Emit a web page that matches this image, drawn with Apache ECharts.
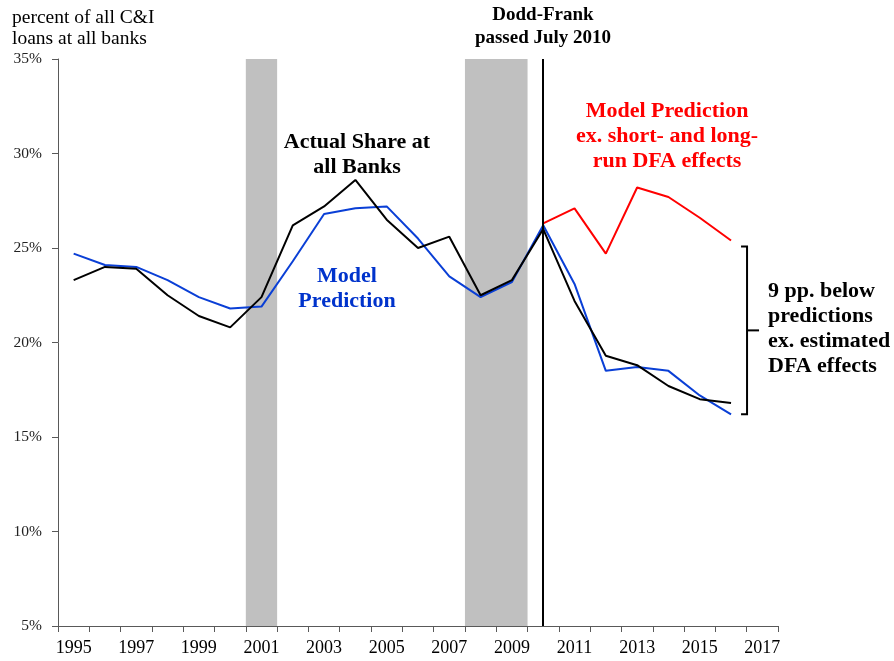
<!DOCTYPE html>
<html>
<head>
<meta charset="utf-8">
<script src="https://cdn.jsdelivr.net/npm/echarts@6/dist/echarts.min.js"></script>
<style>
  html, body { margin: 0; padding: 0; background: #fff; }
  #chart { width: 894px; height: 661px; }
</style>
</head>
<body>
<div id="chart"></div>
<script>
// 年份
var years = ['1995', '1996', '1997', '1998', '1999', '2000', '2001', '2002', '2003', '2004', '2005',
    '2006', '2007', '2008', '2009', '2010', '2011', '2012', '2013', '2014', '2015', '2016', '2017'];

// 实际份额 (%)
var actualShare = [23.3, 24.0, 23.9, 22.5, 21.4, 20.8, 22.4, 26.2, 27.2, 28.6, 26.5,
    25.0, 25.6, 22.5, 23.3, 26.0, 22.2, 19.3, 18.8, 17.7, 17.0, 16.8, null];

// 模型预测 (%)
var modelPred = [24.7, 24.1, 24.0, 23.3, 22.4, 21.8, 21.9, 24.3, 26.8, 27.1, 27.2,
    25.5, 23.5, 22.4, 23.2, 26.2, 23.1, 18.5, 18.7, 18.5, 17.2, 16.2, null];

// 不含DFA影响的模型预测 (%)
var modelExDFA = [null, null, null, null, null, null, null, null, null, null, null,
    null, null, null, null, 26.3, 27.1, 24.7, 28.2, 27.7, 26.6, 25.4, null];

// 衰退期 (起止年份)
var recessions = [['2001', '2001'], ['2008', '2009']];
var doddFrankYear = '2010';
var bracketYear = '2016';

var yTicks = { min: 5, max: 35, interval: 5 };

var serif = '"Liberation Serif", "Times New Roman", serif';
var axisColor = '#595959';

var chart = echarts.init(document.getElementById('chart'));

var option = {
    backgroundColor: '#fff',
    animation: false,
    grid: {
        left: 58,
        right: 116,
        top: 59,
        bottom: 35
    },
    xAxis: {
        type: 'category',
        data: years,
        boundaryGap: true,
        axisLine: { lineStyle: { color: axisColor, width: 1 } },
        axisTick: { show: true, interval: 0, length: 6, lineStyle: { color: axisColor } },
        axisLabel: {
            interval: 1,
            color: '#000',
            fontFamily: serif,
            fontSize: 18,
            margin: 13
        },
        splitLine: { show: false }
    },
    yAxis: {
        type: 'value',
        min: yTicks.min,
        max: yTicks.max,
        interval: yTicks.interval,
        axisLine: { show: true, lineStyle: { color: axisColor, width: 1 } },
        axisTick: { show: true, length: 6, lineStyle: { color: axisColor } },
        axisLabel: {
            formatter: '{value}%',
            color: '#222',
            fontFamily: serif,
            fontSize: 15.5,
            margin: 16
        },
        splitLine: { show: false }
    },
    series: [
        {
            // 衰退期阴影
            name: 'recession',
            type: 'custom',
            silent: true,
            z: 1,
            data: recessions.map(function (r) {
                return [years.indexOf(r[0]), years.indexOf(r[1])];
            }),
            encode: { x: [0, 1] },
            renderItem: function (params, api) {
                var bw = api.size([1, 0])[0];
                var a = api.coord([api.value(0), yTicks.max]);
                var b = api.coord([api.value(1), yTicks.min]);
                return {
                    type: 'rect',
                    shape: { x: a[0] - bw / 2, y: a[1], width: b[0] - a[0] + bw, height: b[1] - a[1] },
                    style: { fill: '#c0c0c0' }
                };
            }
        },
        {
            name: 'Actual Share',
            type: 'line',
            data: actualShare,
            symbol: 'none',
            z: 4,
            lineStyle: { color: '#000', width: 2 },
            markLine: {
                silent: true,
                symbol: 'none',
                label: { show: false },
                lineStyle: { color: '#000', width: 2, type: 'solid' },
                data: [{ xAxis: doddFrankYear }]
            }
        },
        {
            name: 'Model Prediction',
            type: 'line',
            data: modelPred,
            symbol: 'none',
            z: 3,
            lineStyle: { color: '#0a3fd6', width: 2 }
        },
        {
            name: 'Model Prediction ex. DFA',
            type: 'line',
            data: modelExDFA,
            symbol: 'none',
            z: 3,
            lineStyle: { color: '#ff0000', width: 2 }
        },
        {
            // 括号
            name: 'bracket',
            type: 'custom',
            silent: true,
            data: [[years.indexOf(bracketYear), modelExDFA[years.indexOf(bracketYear)], modelPred[years.indexOf(bracketYear)]]],
            encode: { x: 0, y: [1, 2] },
            renderItem: function (params, api) {
                var top = api.coord([api.value(0), api.value(1)]);
                var bot = api.coord([api.value(0), api.value(2)]);
                var x = top[0] + 16;
                var y0 = top[1] + 6;
                var y1 = bot[1];
                var ym = (y0 + y1) / 2;
                var st = { stroke: '#000', lineWidth: 2, fill: null };
                return {
                    type: 'group',
                    children: [
                        { type: 'polyline', shape: { points: [[x - 6, y0], [x, y0], [x, y1], [x - 6, y1]] }, style: st },
                        { type: 'line', shape: { x1: x, y1: ym, x2: x + 12, y2: ym }, style: st }
                    ]
                };
            }
        }
    ],
    graphic: [
        {
            type: 'text', x: 12, y: 7,
            style: {
                text: 'percent of all C&I\nloans at all banks',
                font: '19.5px ' + serif, fill: '#000', lineHeight: 21
            }
        },
        {
            type: 'text', x: 543, y: 4,
            style: {
                text: 'Dodd-Frank\npassed July 2010',
                font: 'bold 19px ' + serif, fill: '#000', lineHeight: 23,
                align: 'center'
            }
        },
        {
            type: 'text', x: 357, y: 130,
            style: {
                text: 'Actual Share at\nall Banks',
                font: 'bold 22px ' + serif, fill: '#000', lineHeight: 25,
                align: 'center'
            }
        },
        {
            type: 'text', x: 347, y: 264,
            style: {
                text: 'Model\nPrediction',
                font: 'bold 22px ' + serif, fill: '#0033cc', lineHeight: 25,
                align: 'center'
            }
        },
        {
            type: 'text', x: 667, y: 99,
            style: {
                text: 'Model Prediction\nex. short- and long-\nrun DFA effects',
                font: 'bold 22px ' + serif, fill: '#ff0000', lineHeight: 25,
                align: 'center'
            }
        },
        {
            type: 'text', x: 768, y: 279,
            style: {
                text: '9 pp. below\npredictions\nex. estimated\nDFA effects',
                font: 'bold 22px ' + serif, fill: '#000', lineHeight: 25
            }
        }
    ]
};

chart.setOption(option);
</script>
</body>
</html>
